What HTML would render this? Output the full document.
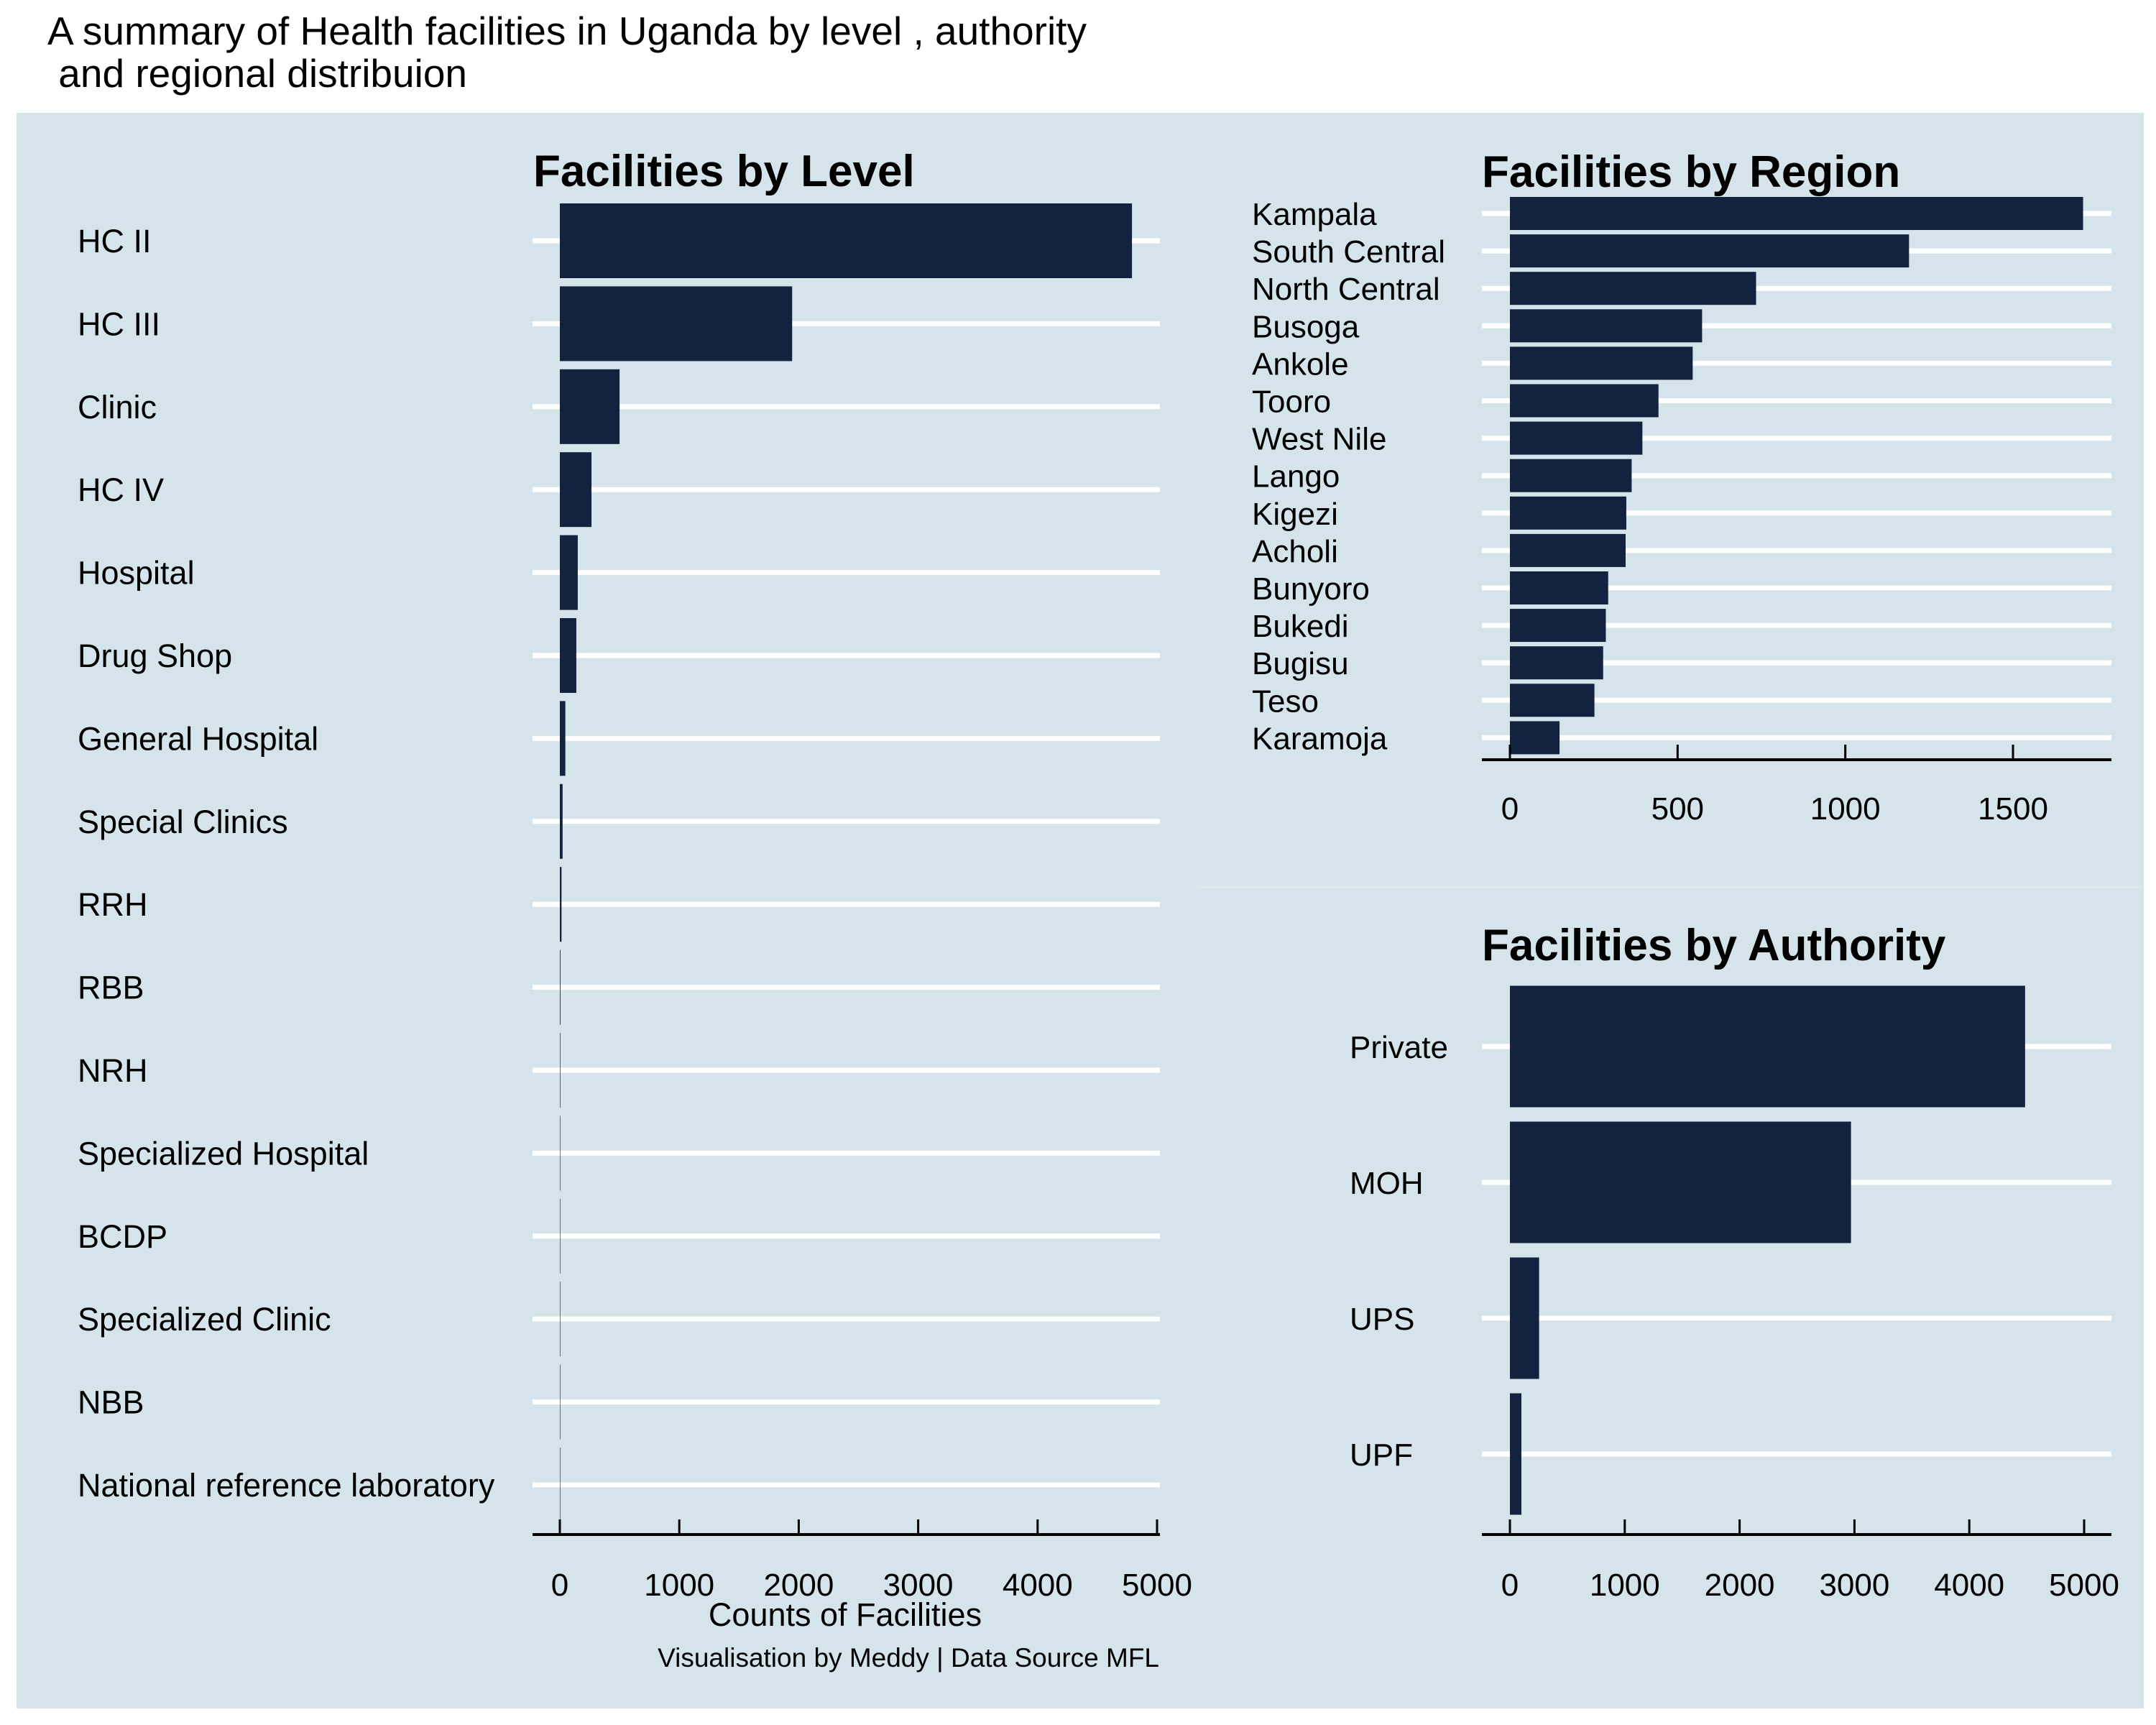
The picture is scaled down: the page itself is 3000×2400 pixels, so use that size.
<!DOCTYPE html>
<html><head><meta charset="utf-8"><style>
html,body{margin:0;padding:0;background:#fff;}
svg{display:block;font-family:"Liberation Sans",Arial,sans-serif;}
</style></head><body>
<svg id="chart" width="3000" height="2400" viewBox="0 0 3000 2400" xmlns="http://www.w3.org/2000/svg">
<text x="66" y="62" font-size="55" fill="#000">A summary of Health facilities in Uganda by level , authority</text>
<text x="66" y="121" font-size="55" fill="#000" xml:space="preserve"> and regional distribuion</text>
<rect x="23" y="157" width="2960" height="2220" fill="#d5e4eb"/>
<line x1="1666" y1="1234" x2="2983" y2="1234" stroke="#dde9ef" stroke-width="3"/>
<g id="level"></g>
<g id="region"></g>
<g id="auth"></g>
<text x="1176" y="2262" font-size="45" text-anchor="middle">Counts of Facilities</text>
<text x="1613" y="2319" font-size="37" text-anchor="end">Visualisation by Meddy | Data Source MFL</text>
</svg>
<script>
const levelCats = ["HC II","HC III","Clinic","HC IV","Hospital","Drug Shop","General Hospital","Special Clinics","RRH","RBB","NRH","Specialized Hospital","BCDP","Specialized Clinic","NBB","National reference laboratory"];
const levelVals = [4790,1945,500,265,150,138,46,23,14,5,4,3,2,1,1,1];
const levelTicks = [0,1000,2000,3000,4000,5000];
const regionCats = ["Kampala","South Central","North Central","Busoga","Ankole","Tooro","West Nile","Lango","Kigezi","Acholi","Bunyoro","Bukedi","Bugisu","Teso","Karamoja"];
const regionVals = [1709,1190,734,573,545,443,395,363,347,345,293,286,278,252,148];
const regionTicks = [0,500,1000,1500];
const authCats = ["Private","MOH","UPS","UPF"];
const authVals = [4486,2970,254,100];
const authTicks = [0,1000,2000,3000,4000,5000];

const NS="http://www.w3.org/2000/svg";
function mk(parent,tag,attrs,text){const e=document.createElementNS(NS,tag);for(const k in attrs)e.setAttribute(k,attrs[k]);if(text!==undefined)e.textContent=text;parent.appendChild(e);return e;}

function panel(g,o){
  const sx=v=>o.x0+(v/o.tmax)*(o.x1-o.x0);
  const sy=i=>o.y0+i*o.pitch;
  const t=mk(g,"text",{x:o.titleX,y:o.titleY,"font-size":62,"font-weight":"bold"},o.title);
  
  
  o.cats.forEach((c,i)=>{
    const gl=mk(g,"line",{x1:o.gx0,x2:o.gx1,y1:sy(i),y2:sy(i),stroke:"#fff","stroke-width":7});
    
    
  });
  o.cats.forEach((c,i)=>{
    const w=Math.max(sx(o.vals[i])-sx(0),0.6);
    const b=mk(g,"rect",{x:sx(0),y:sy(i)-o.bh/2,width:w,height:o.bh,fill:"#13233f"});
    
    
    const l=mk(g,"text",{x:o.lx,y:sy(i)+16,"font-size":o.fs},c);
    
    
  });
  const ax=mk(g,"line",{x1:o.gx0,x2:o.gx1,y1:o.axY,y2:o.axY,stroke:"#000","stroke-width":4});
  
  
  o.ticks.forEach(v=>{
    const tk=mk(g,"line",{x1:sx(v),x2:sx(v),y1:o.axY-21,y2:o.axY,stroke:"#000","stroke-width":3});
    
    
    const tl=mk(g,"text",{x:sx(v),y:o.tlY,"font-size":44,"text-anchor":"middle"},String(v));
    
    
  });
}
panel(document.getElementById('level'),{key:"level",title:"Facilities by Level",titleX:742,titleY:259,cats:levelCats,vals:levelVals,ticks:levelTicks,tmax:5000,x0:779,x1:1610,y0:335,pitch:115.4,bh:104,gx0:741,gx1:1614,lx:108,fs:45,axY:2135,tlY:2220});
panel(document.getElementById('region'),{key:"region",title:"Facilities by Region",titleX:2062,titleY:260,cats:regionCats,vals:regionVals,ticks:regionTicks,tmax:1500,x0:2101,x1:2801,y0:297,pitch:52.1,bh:46,gx0:2062,gx1:2938,lx:1742,fs:44,axY:1057,tlY:1140});
panel(document.getElementById('auth'),{key:"authority",title:"Facilities by Authority",titleX:2062,titleY:1336,cats:authCats,vals:authVals,ticks:authTicks,tmax:5000,x0:2101,x1:2900,y0:1456,pitch:189,bh:169,gx0:2062,gx1:2938,lx:1878,fs:44,axY:2135,tlY:2220});
</script>
</body></html>
